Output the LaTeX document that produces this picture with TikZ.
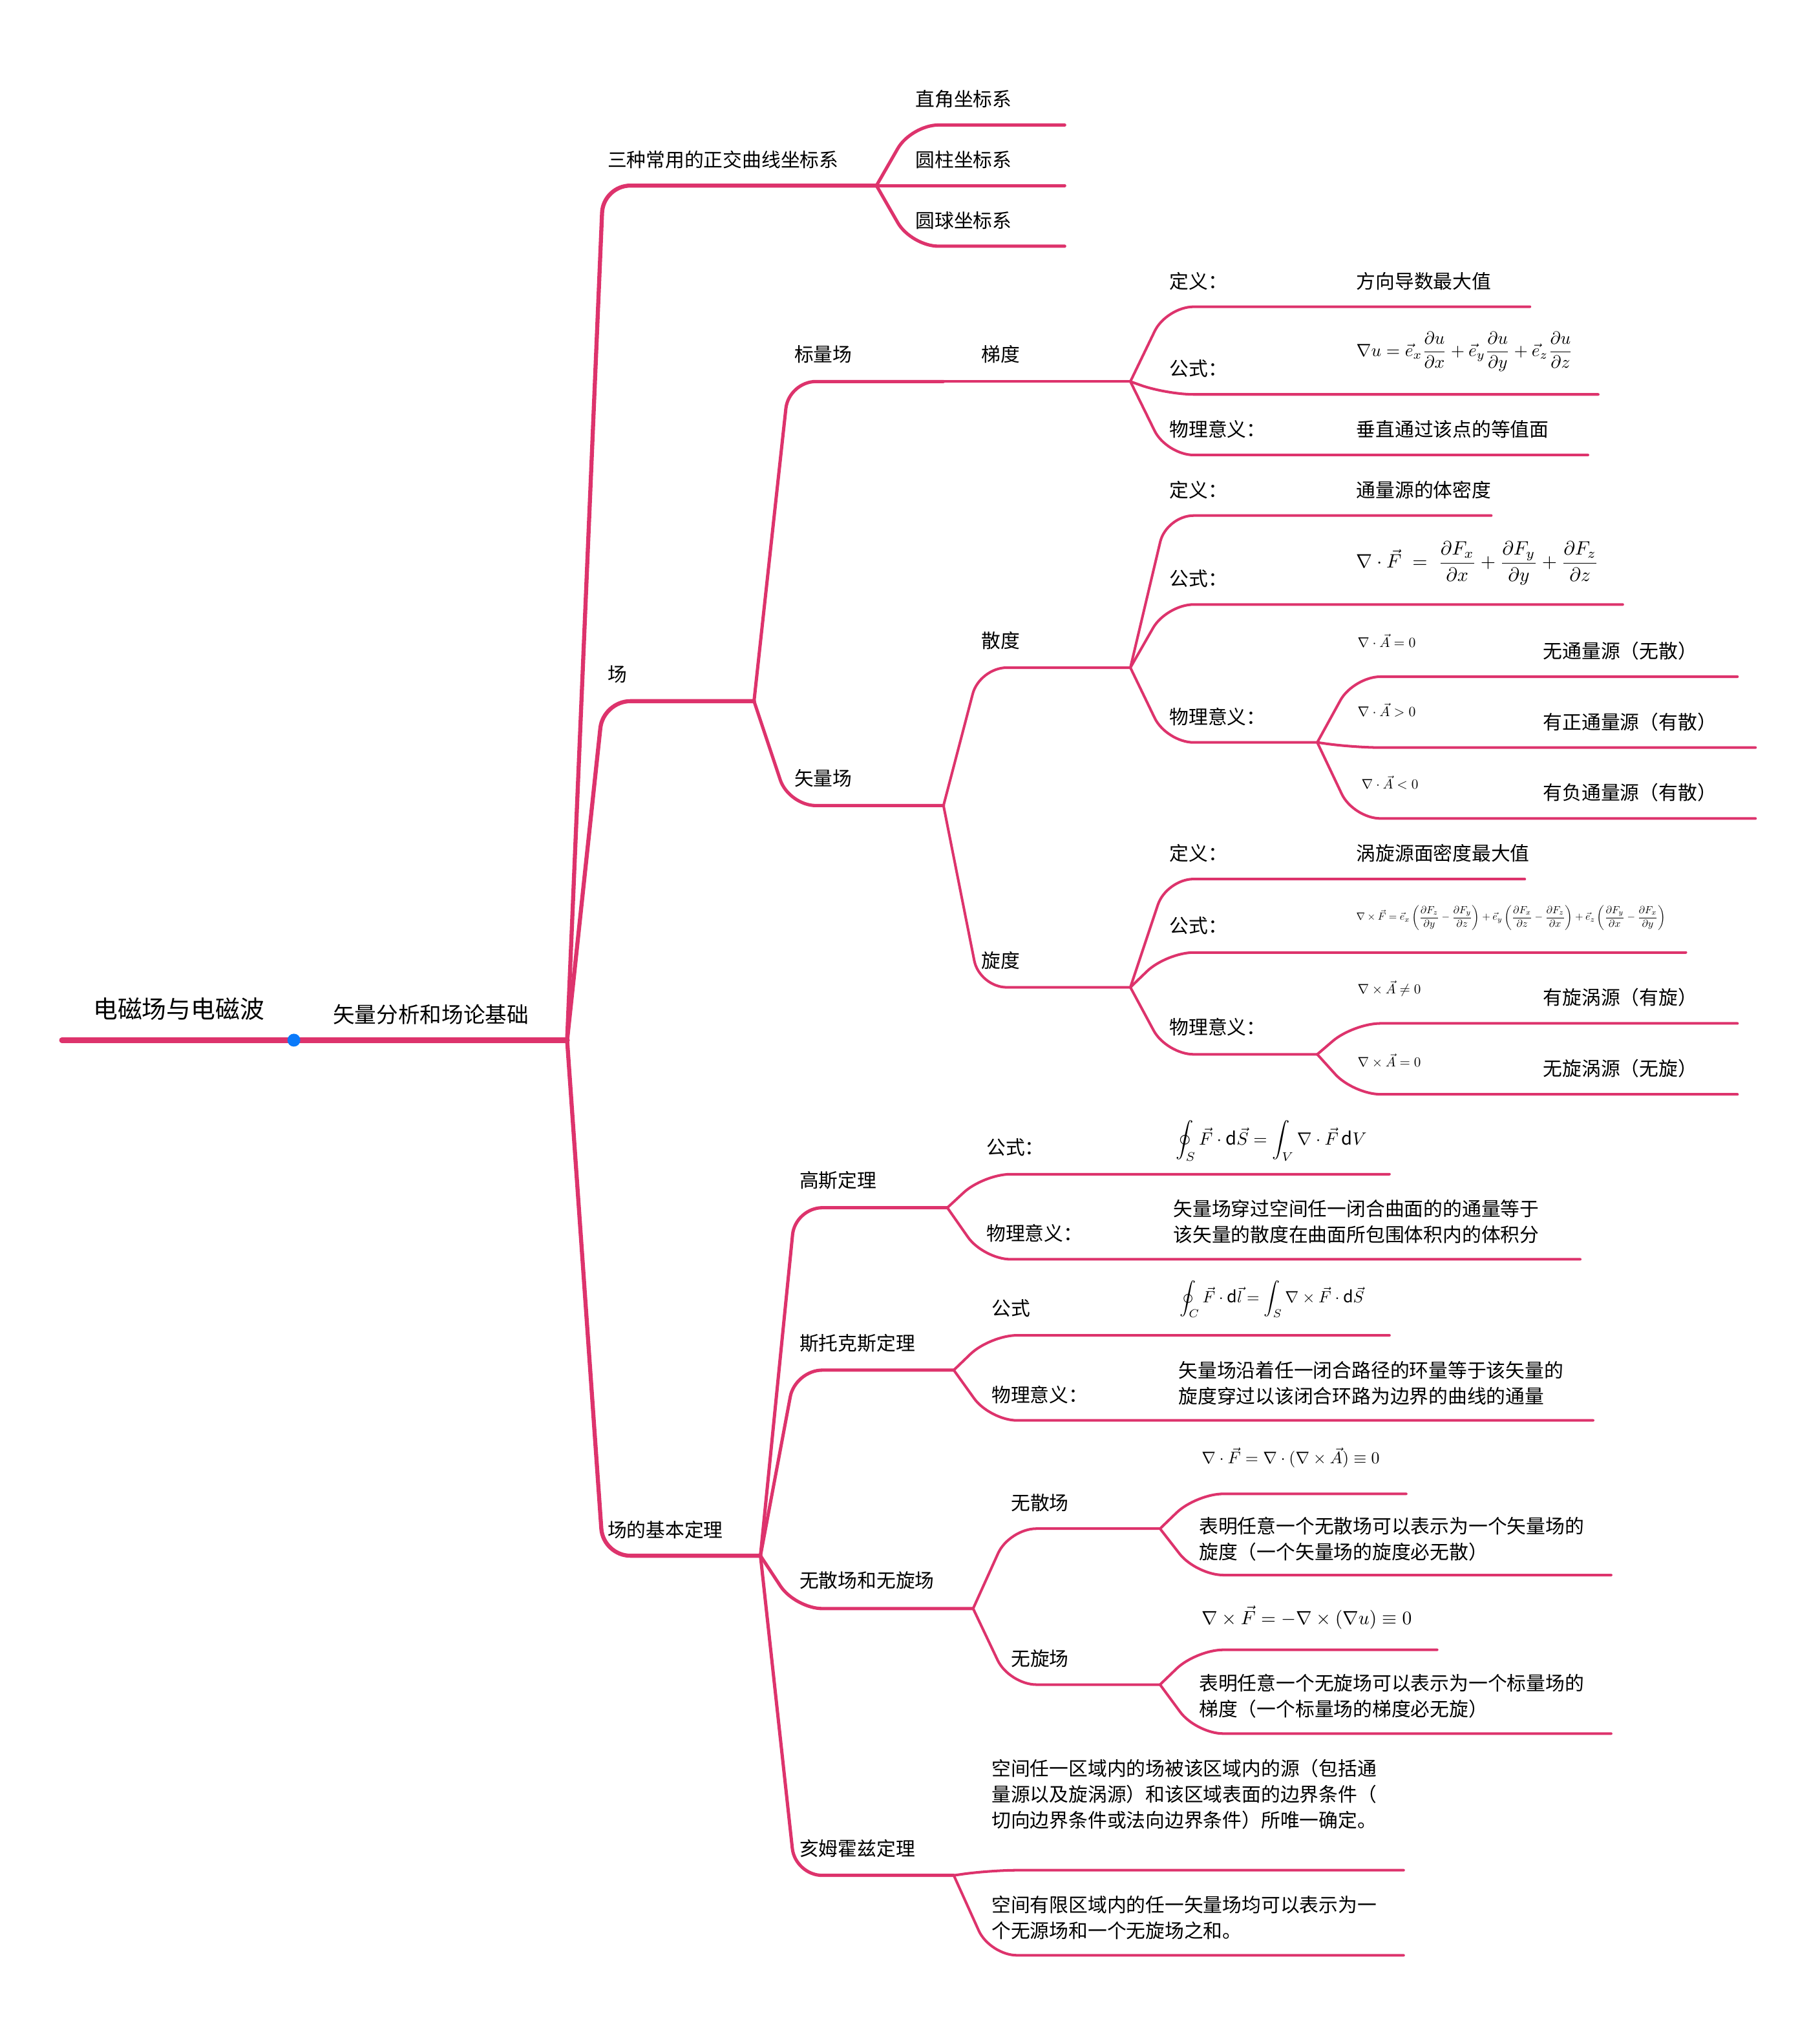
\documentclass[tikz,border=0pt]{standalone}
\usepackage{fontspec}
\setmainfont{Noto Sans CJK SC}
\usepackage{amsmath}
\usepackage{graphicx}
\usetikzlibrary{calc}
\definecolor{brc}{RGB}{221,51,108}
\definecolor{dotblue}{RGB}{10,122,250}
\begin{document}
\begin{tikzpicture}[x=0.02cm,y=-0.02cm,
  lbl/.style={anchor=west,inner sep=0pt,font=\fontsize{8.5}{11.4}\selectfont,align=left,text=black},
  fml/.style={anchor=west,inner sep=0pt},
  ln/.style={draw=brc,line width=1.15pt,rounded corners=0.42cm,line cap=round},
  ln2/.style={ln,line width=1.45pt},
  ln1/.style={ln,line width=1.8pt},
  ln0/.style={draw=brc,line width=2.4pt,line cap=round}]
\useasboundingbox (0,0) rectangle (1412,1568);
% ---------- coordinates ----------
\coordinate (rS) at (48,807); \coordinate (rD) at (228,807); \coordinate (rE) at (440,807);
\coordinate (aK) at (468,144); \coordinate (aE) at (680,144);
\coordinate (bK) at (468,544); \coordinate (bE) at (585,544);
\coordinate (cK) at (468,1207); \coordinate (cE) at (590,1207);
\coordinate (a1K) at (707,97); \coordinate (a1E) at (826,97);
\coordinate (a2E) at (826,144);
\coordinate (a3K) at (707,191); \coordinate (a3E) at (826,191);
\coordinate (b1K) at (612,296); \coordinate (b1E) at (732,296);
\coordinate (b2K) at (612,625); \coordinate (b2E) at (732,625);
\coordinate (gE) at (877,296);
\coordinate (g1K) at (905,238); \coordinate (g1E) at (1187,238);
\coordinate (g2K) at (905,306); \coordinate (g2E) at (1240,306);
\coordinate (g3K) at (905,353); \coordinate (g3E) at (1232,353);
\coordinate (dK) at (760,518); \coordinate (dE) at (877,518);
\coordinate (d1K) at (905,400); \coordinate (d1E) at (1157,400);
\coordinate (d2K) at (905,469); \coordinate (d2E) at (1259,469);
\coordinate (d3K) at (905,576); \coordinate (d3E) at (1022,576);
\coordinate (d31K) at (1050,525); \coordinate (d31E) at (1348,525);
\coordinate (d32K) at (1050,580); \coordinate (d32E) at (1362,580);
\coordinate (d33K) at (1050,635); \coordinate (d33E) at (1362,635);
\coordinate (xK) at (760,766); \coordinate (xE) at (877,766);
\coordinate (x1K) at (905,682); \coordinate (x1E) at (1183,682);
\coordinate (x2K) at (905,739); \coordinate (x2E) at (1308,739);
\coordinate (x3K) at (905,818); \coordinate (x3E) at (1022,818);
\coordinate (x31K) at (1050,794); \coordinate (x31E) at (1348,794);
\coordinate (x32K) at (1050,849); \coordinate (x32E) at (1348,849);
\coordinate (c1K) at (617,937); \coordinate (c1E) at (735,937);
\coordinate (c11K) at (763,911); \coordinate (c11E) at (1078,911);
\coordinate (c12K) at (763,977); \coordinate (c12E) at (1226,977);
\coordinate (c2K) at (617,1063); \coordinate (c2E) at (740,1063);
\coordinate (c21K) at (768,1036); \coordinate (c21E) at (1078,1036);
\coordinate (c22K) at (768,1102); \coordinate (c22E) at (1236,1102);
\coordinate (c3K) at (617,1248); \coordinate (c3E) at (755,1248);
\coordinate (c31K) at (783,1186); \coordinate (c31E) at (900,1186);
\coordinate (c311K) at (928,1159); \coordinate (c311E) at (1091,1159);
\coordinate (c312K) at (928,1222); \coordinate (c312E) at (1250,1222);
\coordinate (c32K) at (783,1307); \coordinate (c32E) at (900,1307);
\coordinate (c321K) at (928,1280); \coordinate (c321E) at (1115,1280);
\coordinate (c322K) at (928,1345); \coordinate (c322E) at (1250,1345);
\coordinate (c4K) at (617,1455); \coordinate (c4E) at (740,1455);
\coordinate (c41K) at (768,1451); \coordinate (c41E) at (1089,1451);
\coordinate (c42K) at (768,1517); \coordinate (c42E) at (1089,1517);
% ---------- connectors ----------
\draw[ln0] (rS) -- (rD) -- (rE);
\draw[ln1] (rE) -- (aK) -- (aE);
\draw[ln1] (rE) -- (bK) -- (bE);
\draw[ln1] (rE) -- (cK) -- (cE);
\draw[ln2] (aE) -- (a1K) -- (a1E);
\draw[ln2] (aE) -- (a2E);
\draw[ln2] (aE) -- (a3K) -- (a3E);
\draw[ln2] (bE) -- (b1K) -- (b1E);
\draw[ln2] (bE) -- (b2K) -- (b2E);
\draw[ln] (b1E) -- (gE);
\draw[ln] (gE) -- (g1K) -- (g1E);
\draw[ln] (gE) -- (g2K) -- (g2E);
\draw[ln] (gE) -- (g3K) -- (g3E);
\draw[ln] (b2E) -- (dK) -- (dE);
\draw[ln] (dE) -- (d1K) -- (d1E);
\draw[ln] (dE) -- (d2K) -- (d2E);
\draw[ln] (dE) -- (d3K) -- (d3E);
\draw[ln] (d3E) -- (d31K) -- (d31E);
\draw[ln] (d3E) -- (d32K) -- (d32E);
\draw[ln] (d3E) -- (d33K) -- (d33E);
\draw[ln] (b2E) -- (xK) -- (xE);
\draw[ln] (xE) -- (x1K) -- (x1E);
\draw[ln] (xE) -- (x2K) -- (x2E);
\draw[ln] (xE) -- (x3K) -- (x3E);
\draw[ln] (x3E) -- (x31K) -- (x31E);
\draw[ln] (x3E) -- (x32K) -- (x32E);
\draw[ln2] (cE) -- (c1K) -- (c1E);
\draw[ln] (c1E) -- (c11K) -- (c11E);
\draw[ln] (c1E) -- (c12K) -- (c12E);
\draw[ln2] (cE) -- (c2K) -- (c2E);
\draw[ln] (c2E) -- (c21K) -- (c21E);
\draw[ln] (c2E) -- (c22K) -- (c22E);
\draw[ln2] (cE) -- (c3K) -- (c3E);
\draw[ln] (c3E) -- (c31K) -- (c31E);
\draw[ln] (c31E) -- (c311K) -- (c311E);
\draw[ln] (c31E) -- (c312K) -- (c312E);
\draw[ln] (c3E) -- (c32K) -- (c32E);
\draw[ln] (c32E) -- (c321K) -- (c321E);
\draw[ln] (c32E) -- (c322K) -- (c322E);
\draw[ln2] (cE) -- (c4K) -- (c4E);
\draw[ln] (c4E) -- (c41K) -- (c41E);
\draw[ln] (c4E) -- (c42K) -- (c42E);
\node[circle,fill=dotblue,minimum size=0.2cm,inner sep=0pt] (dot) at (rD) {};
% ---------- texts ----------
\node[lbl,font=\fontsize{10.8}{13}\selectfont] (t0) at (72,783) {电磁场与电磁波};
\node[lbl,font=\fontsize{9.6}{12}\selectfont] (t00) at (258,787) {矢量分析和场论基础};
\node[lbl] (ta) at (471,124) {三种常用的正交曲线坐标系};
\node[lbl] (ta1) at (710,77) {直角坐标系};
\node[lbl] (ta2) at (710,124) {圆柱坐标系};
\node[lbl] (ta3) at (710,171) {圆球坐标系};
\node[lbl] (tb) at (471,523) {场};
\node[lbl] (tb1) at (616,275) {标量场};
\node[lbl] (tb2) at (616,604) {矢量场};
\node[lbl] (tg) at (761,275) {梯度};
\node[lbl] (tg1) at (907,218) {定义：};
\node[lbl] (vg1) at (1052,218) {方向导数最大值};
\node[lbl] (tg2) at (907,286) {公式：};
\node[fml] (fg) at (1052,273) {\resizebox{3.36cm}{!}{$\nabla u=\vec e_x\dfrac{\partial u}{\partial x}+\vec e_y\dfrac{\partial u}{\partial y}+\vec e_z\dfrac{\partial u}{\partial z}$}};
\node[lbl] (tg3) at (907,333) {物理意义：};
\node[lbl] (vg3) at (1052,333) {垂直通过该点的等值面};
\node[lbl] (td) at (761,497) {散度};
\node[lbl] (td1) at (907,380) {定义：};
\node[lbl] (vd1) at (1052,380) {通量源的体密度};
\node[lbl] (td2) at (907,449) {公式：};
\node[fml] (fd) at (1052,437) {\resizebox{3.76cm}{!}{$\nabla\cdot\vec F\;=\;\dfrac{\partial F_x}{\partial x}+\dfrac{\partial F_y}{\partial y}+\dfrac{\partial F_z}{\partial z}$}};
\node[lbl] (td3) at (907,556) {物理意义：};
\node[fml] (fd31) at (1053,497) {\resizebox{0.9cm}{!}{$\nabla\cdot\vec A=0$}};
\node[lbl] (vd31) at (1197,505) {无通量源（无散）};
\node[fml] (fd32) at (1053,551) {\resizebox{0.9cm}{!}{$\nabla\cdot\vec A>0$}};
\node[lbl] (vd32) at (1197,560) {有正通量源（有散）};
\node[fml] (fd33) at (1056,607) {\resizebox{0.88cm}{!}{$\nabla\cdot\vec A<0$}};
\node[lbl] (vd33) at (1197,615) {有负通量源（有散）};
\node[lbl] (tx) at (761,745) {旋度};
\node[lbl] (tx1) at (907,662) {定义：};
\node[lbl] (vx1) at (1052,662) {涡旋源面密度最大值};
\node[lbl] (tx2) at (907,718) {公式：};
\node[fml] (fx) at (1052,712) {\resizebox{4.8cm}{!}{$\nabla\times\vec F=\vec e_x\left(\dfrac{\partial F_z}{\partial y}-\dfrac{\partial F_y}{\partial z}\right)+\vec e_y\left(\dfrac{\partial F_x}{\partial z}-\dfrac{\partial F_z}{\partial x}\right)+\vec e_z\left(\dfrac{\partial F_y}{\partial x}-\dfrac{\partial F_x}{\partial y}\right)$}};
\node[lbl] (tx3) at (907,797) {物理意义：};
\node[fml] (fx31) at (1053,767) {\resizebox{0.98cm}{!}{$\nabla\times\vec A\neq0$}};
\node[lbl] (vx31) at (1197,774) {有旋涡源（有旋）};
\node[fml] (fx32) at (1053,823) {\resizebox{0.98cm}{!}{$\nabla\times\vec A=0$}};
\node[lbl] (vx32) at (1197,829) {无旋涡源（无旋）};
\node[lbl] (tc) at (471,1187) {场的基本定理};
\node[lbl] (tc1) at (620,916) {高斯定理};
\node[lbl] (tc11) at (765,890) {公式：};
\node[fml] (fc11) at (912,885) {\resizebox{2.96cm}{!}{$\displaystyle\oint_S\vec F\cdot\mathrm{d}\vec S=\int_V\nabla\cdot\vec F\,\mathrm{d}V$}};
\node[lbl] (tc12) at (765,957) {物理意义：};
\node[lbl] (vc12) at (910,948) {矢量场穿过空间任一闭合曲面的的通量等于\\该矢量的散度在曲面所包围体积内的体积分};
\node[lbl] (tc2) at (620,1042) {斯托克斯定理};
\node[lbl] (tc21) at (769,1015) {公式};
\node[fml] (fc21) at (915,1008) {\resizebox{2.86cm}{!}{$\displaystyle\oint_C\vec F\cdot\mathrm{d}\vec l=\int_S\nabla\times\vec F\cdot\mathrm{d}\vec S$}};
\node[lbl] (tc22) at (769,1082) {物理意义：};
\node[lbl] (vc22) at (914,1073) {矢量场沿着任一闭合路径的环量等于该矢量的\\旋度穿过以该闭合环路为边界的曲线的通量};
\node[lbl] (tc3) at (620,1226) {无散场和无旋场};
\node[lbl] (tc31) at (784,1166) {无散场};
\node[fml] (fc311) at (932,1131) {\resizebox{2.76cm}{!}{$\nabla\cdot\vec F=\nabla\cdot(\nabla\times\vec A)\equiv0$}};
\node[lbl] (vc312) at (930,1194) {表明任意一个无散场可以表示为一个矢量场的\\旋度（一个矢量场的旋度必无散）};
\node[lbl] (tc32) at (784,1287) {无旋场};
\node[fml] (fc321) at (932,1255) {\resizebox{3.26cm}{!}{$\nabla\times\vec F=-\nabla\times(\nabla u)\equiv0$}};
\node[lbl] (vc322) at (930,1316) {表明任意一个无旋场可以表示为一个标量场的\\梯度（一个标量场的梯度必无旋）};
\node[lbl] (tc4) at (620,1434) {亥姆霍兹定理};
\node[lbl] (vc41) at (769,1392) {空间任一区域内的场被该区域内的源（包括通\\量源以及旋涡源）和该区域表面的边界条件（\\切向边界条件或法向边界条件）所唯一确定。};
\node[lbl] (vc42) at (769,1488) {空间有限区域内的任一矢量场均可以表示为一\\个无源场和一个无旋场之和。};
\end{tikzpicture}
\end{document}
